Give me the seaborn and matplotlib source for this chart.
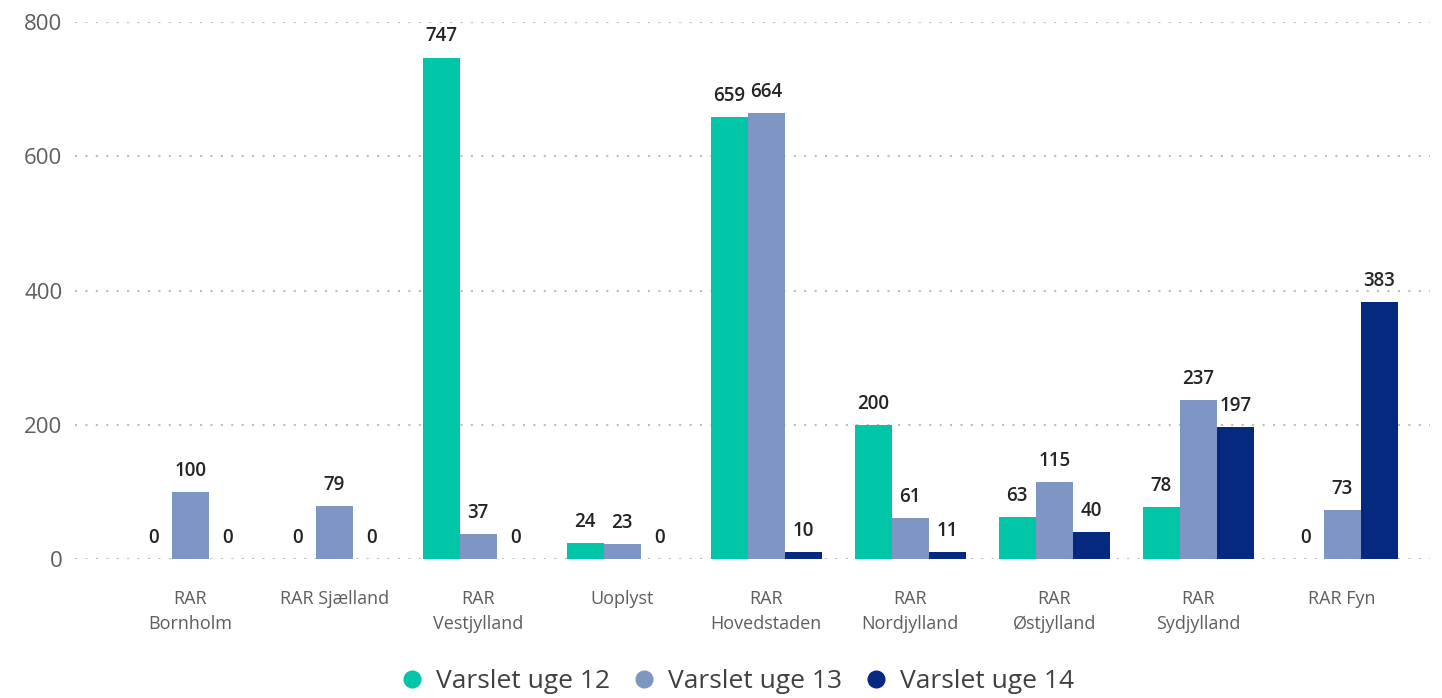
import matplotlib
matplotlib.use("Agg")
import matplotlib.pyplot as plt
import seaborn as sns
import pandas as pd
from matplotlib.lines import Line2D

regions = ["RAR\nBornholm", "RAR Sjælland", "RAR\nVestjylland", "Uoplyst",
           "RAR\nHovedstaden", "RAR\nNordjylland", "RAR\nØstjylland",
           "RAR\nSydjylland", "RAR Fyn"]
series = ["Varslet uge 12", "Varslet uge 13", "Varslet uge 14"]
uge12 = [0, 0, 747, 24, 659, 200, 63, 78, 0]
uge13 = [100, 79, 37, 23, 664, 61, 115, 237, 73]
uge14 = [0, 0, 0, 0, 10, 11, 40, 197, 383]
colors = ["#01C5A8", "#7F96C4", "#04297E"]

df = pd.DataFrame({
    "region": regions * 3,
    "serie": [s for s in series for _ in regions],
    "value": uge12 + uge13 + uge14,
})

sns.set_style("white")
plt.rcParams["font.family"] = ["Open Sans", "DejaVu Sans"]

fig = plt.figure(figsize=(14.42, 6.98), dpi=100)
ax = fig.add_axes([0.052, 0.199, 0.9397, 0.7695])

sns.barplot(data=df, x="region", y="value", hue="serie", palette=colors,
            order=regions, hue_order=series, width=0.77, saturation=1,
            linewidth=0, legend=False, ax=ax)

# value labels above each bar
for cont in ax.containers:
    ax.bar_label(cont, padding=8, fontsize=13.5, color="#252423",
                 fontweight="semibold")

ax.set_xlim(-0.8, 8.61)
ax.set_ylim(0, 800)
ax.set_yticks([0, 200, 400, 600, 800])
ax.yaxis.grid(True, linestyle=(0, (1, 4)), color="#BDBDBD", linewidth=1.5)
ax.set_axisbelow(True)
for sp in ax.spines.values():
    sp.set_visible(False)
ax.set_xlabel("")
ax.set_ylabel("")
ax.tick_params(axis="y", length=0, labelsize=16, labelcolor="#605E5C", pad=9)
ax.tick_params(axis="x", length=0, labelsize=13, labelcolor="#605E5C", pad=22)
for lab in ax.get_xticklabels():
    lab.set_linespacing(1.55)

handles = [Line2D([], [], marker="o", linestyle="", markersize=12,
                  markerfacecolor=c, markeredgecolor=c) for c in colors]
fig.legend(handles, series, loc="center", bbox_to_anchor=(0.506, 0.024),
           ncol=3, frameon=False, fontsize=19, handletextpad=-0.1,
           columnspacing=0.3, labelcolor="#404040")

fig.savefig("out.png", dpi=100)
